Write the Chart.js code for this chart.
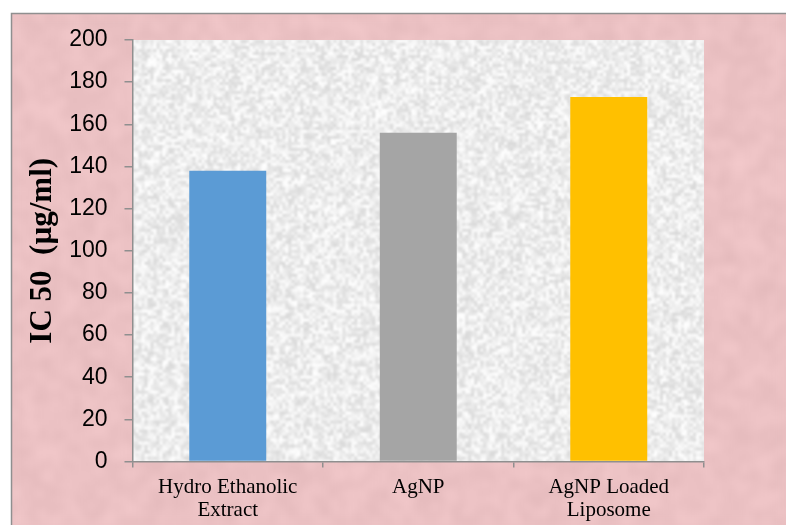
<!DOCTYPE html>
<html>
<head>
<meta charset="utf-8">
<script src="https://cdn.jsdelivr.net/npm/chart.js@4/dist/chart.umd.min.js"></script>
<style>
  html, body { margin: 0; padding: 0; background: #ffffff; }
  #wrap { width: 786px; height: 525px; }
</style>
</head>
<body>
<div id="wrap"><canvas id="chart" width="786" height="525"></canvas></div>
<script>
// Samples and their IC50 values
const categories = [["Hydro Ethanolic", "Extract"], "AgNP", ["AgNP Loaded", "Liposome"]];
const ic50Values = [138, 156, 173];
const barColors = ["#5B9BD5", "#A5A5A5", "#FFC000"];

// Value axis
const yMin = 0;
const yMax = 200;
const yStep = 20;
const yAxisTitle = "IC 50  (\u00b5g/ml)";

const W = 786, H = 525;

// Deterministic hash noise used for the paper-like backgrounds
function hash(x, y, seed) {
  const h = Math.sin(x * 127.1 + y * 311.7 + seed * 74.7) * 43758.5453;
  return h - Math.floor(h);
}

function makeTexture(w, h, base, cell, amp, blur, seed) {
  const noise = document.createElement('canvas');
  noise.width = w; noise.height = h;
  const n = noise.getContext('2d');
  for (let y = 0; y < h; y += cell) {
    for (let x = 0; x < w; x += cell) {
      const v = (hash(x / cell, y / cell, seed) - 0.5) * 2 * amp;
      const r = Math.round(base[0] + v), g = Math.round(base[1] + v), b = Math.round(base[2] + v);
      n.fillStyle = `rgb(${r},${g},${b})`;
      n.fillRect(x, y, cell, cell);
    }
  }
  const out = document.createElement('canvas');
  out.width = w; out.height = h;
  const o = out.getContext('2d');
  o.fillStyle = `rgb(${base[0]},${base[1]},${base[2]})`;
  o.fillRect(0, 0, w, h);
  o.filter = `blur(${blur}px)`;
  o.drawImage(noise, 0, 0);
  o.filter = 'none';
  return out;
}

const pinkTex = makeTexture(W - 11, H - 13, [235, 193, 195], 7, 8, 4, 1);
let plotTex = null;

const backgroundPlugin = {
  id: 'paperBackground',
  beforeDraw(chart) {
    const ctx = chart.ctx;
    const a = chart.chartArea;
    ctx.save();
    ctx.fillStyle = '#ffffff';
    ctx.fillRect(0, 0, W, H);
    ctx.drawImage(pinkTex, 11, 13);
    ctx.strokeStyle = '#8f8f8f';
    ctx.lineWidth = 1.5;
    ctx.beginPath();
    ctx.moveTo(11.5, H);
    ctx.lineTo(11.5, 13.5);
    ctx.lineTo(W, 13.5);
    ctx.stroke();
    const pw = Math.round(a.right - a.left), ph = Math.round(a.bottom - a.top);
    if (!plotTex) plotTex = makeTexture(pw, ph, [237, 237, 237], 3, 20, 1.1, 2);
    ctx.drawImage(plotTex, a.left, a.top, a.right - a.left, a.bottom - a.top);
    ctx.restore();
  }
};

new Chart(document.getElementById('chart'), {
  type: 'bar',
  data: {
    labels: categories,
    datasets: [{
      data: ic50Values,
      backgroundColor: barColors,
      borderWidth: 0,
      barPercentage: 0.404,
      categoryPercentage: 1.0
    }]
  },
  options: {
    responsive: false,
    animation: false,
    devicePixelRatio: 1,
    layout: { padding: { top: 40, right: 82, left: 0, bottom: 0 } },
    plugins: {
      legend: { display: false },
      tooltip: { enabled: false }
    },
    scales: {
      x: {
        grid: { display: true, drawOnChartArea: false, drawTicks: true, tickLength: 6, color: '#8f8f8f', lineWidth: 1.5, offset: true },
        border: { display: true, color: '#8f8f8f', width: 1.5 },
        ticks: {
          color: '#000000',
          font: { family: 'Liberation Serif', size: 21, lineHeight: 1.1 },
          padding: 8,
          maxRotation: 0,
          autoSkip: false
        },
        afterFit(scale) { scale.height = 63.5; }
      },
      y: {
        min: yMin,
        max: yMax,
        grid: { display: true, drawOnChartArea: false, drawTicks: true, tickLength: 8, color: '#8f8f8f', lineWidth: 1.5 },
        border: { display: true, color: '#8f8f8f', width: 1.5 },
        ticks: {
          stepSize: yStep,
          color: '#000000',
          font: { family: 'Liberation Sans', size: 23 },
          padding: 17
        },
        title: {
          display: true,
          text: yAxisTitle,
          color: '#000000',
          font: { family: 'Liberation Serif', size: 31, weight: 'bold', lineHeight: 1.2 },
          padding: { top: 24, bottom: 0 }
        },
        afterFit(scale) { scale.width = 132.5; }
      }
    }
  },
  plugins: [backgroundPlugin]
});
</script>
</body>
</html>
